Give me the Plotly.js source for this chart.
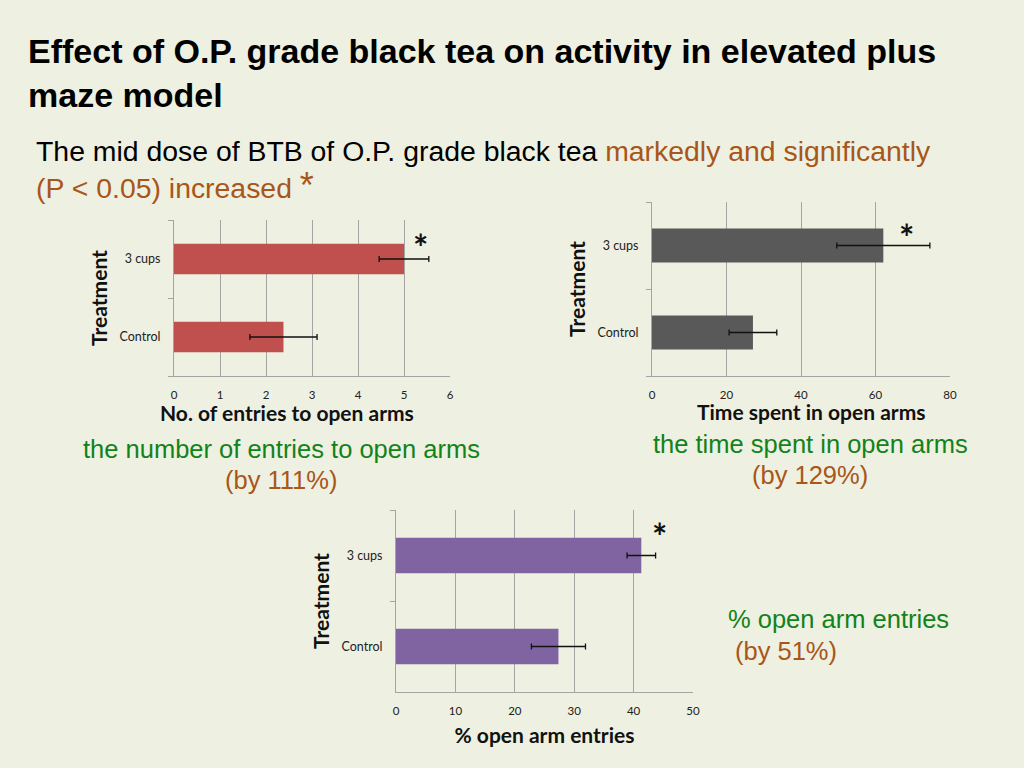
<!DOCTYPE html>
<html>
<head>
<meta charset="utf-8">
<script src="https://cdn.plot.ly/plotly-3.0.1.min.js"></script>
<style>
  html, body { margin: 0; padding: 0; background: #eef0e1; }
  #chart { width: 1024px; height: 768px; }
</style>
</head>
<body>
<div id="chart"></div>
<script>
// ---- data ----
const categories = ['Control', '3 cups'];
const entriesValues = [2.38, 5.0];
const entriesErrors = [0.73, 0.54];
const timeValues = [27.1, 62.1];
const timeErrors = [6.4, 12.5];
const pctValues = [27.35, 41.3];
const pctErrors = [4.55, 2.4];
const xTicks1 = [0, 1, 2, 3, 4, 5, 6];
const xTicks2 = [0, 20, 40, 60, 80];
const xTicks3 = [0, 10, 20, 30, 40, 50];

const BG = '#eef0e1';
const GRID = '#a4a4a4';
const LABEL_FONT = 'Lato, "Open Sans", sans-serif';
const SANS = '"Liberation Sans", Arial, sans-serif';
const GREEN = '#12821a';
const BROWN = '#a8561a';

function barTrace(vals, errs, color, xa, ya) {
  return {
    type: 'bar', orientation: 'h',
    x: vals, y: categories,
    xaxis: xa, yaxis: ya,
    marker: { color: color },
    error_x: { type: 'data', array: errs, visible: true, color: '#111', thickness: 1.3, width: 3 },
    hoverinfo: 'x+y', showlegend: false
  };
}

const data = [
  barTrace(entriesValues, entriesErrors, '#c0504d', 'x', 'y'),
  barTrace(timeValues, timeErrors, '#595959', 'x2', 'y2'),
  barTrace(pctValues, pctErrors, '#8064a2', 'x3', 'y3')
];

const titleFont = { family: LABEL_FONT, size: 21, color: '#111', weight: 'bold' };

function xAxis(domain, anchor, range, ticks, title, standoff) {
  return {
    domain: domain, anchor: anchor, range: range,
    tickmode: 'array', tickvals: ticks, ticktext: ticks.map(String),
    showgrid: true, gridcolor: GRID, gridwidth: 1,
    showline: true, linecolor: GRID, linewidth: 1,
    zeroline: false, ticks: '', ticklabelstandoff: 8,
    tickfont: { family: LABEL_FONT, size: 11.5, color: '#222' },
    title: { text: title, standoff: standoff, font: titleFont },
    fixedrange: true
  };
}
function yAxis(domain, anchor, standoff) {
  return {
    domain: domain, anchor: anchor, range: [-0.5, 1.5],
    type: 'category',
    showgrid: false, showline: true, linecolor: GRID, linewidth: 1,
    zeroline: false, ticks: 'outside', tickson: 'boundaries', ticklen: 5, tickcolor: GRID,
    ticklabelstandoff: 10,
    tickfont: { family: LABEL_FONT, size: 12.5, color: '#222' },
    title: { text: 'Treatment', standoff: standoff, font: titleFont },
    fixedrange: true
  };
}

const W = 1024, H = 768;
const px = v => v / W;
const py = v => 1 - v / H;

const layout = {
  width: W, height: H,
  margin: { l: 0, r: 0, t: 0, b: 0 },
  paper_bgcolor: BG, plot_bgcolor: BG,
  bargap: 0.61,
  xaxis: xAxis([px(174), px(450)], 'y', [0, 6], xTicks1, '', 2),
  yaxis: yAxis([py(376), py(220)], 'x', 6),
  xaxis2: xAxis([px(652), px(950)], 'y2', [0, 80], xTicks2, '', 0),
  yaxis2: yAxis([py(376), py(202)], 'x2', 6),
  xaxis3: xAxis([px(396), px(693)], 'y3', [0, 50], xTicks3, '% open arm entries', 12),
  yaxis3: yAxis([py(692), py(510)], 'x3', 6),
  annotations: [
    { text: '<b>Effect of O.P. grade black tea on activity in elevated plus<br>maze model</b>',
      xref: 'paper', yref: 'paper', x: px(26), y: py(30), xanchor: 'left', yanchor: 'top',
      align: 'left', showarrow: false, font: { family: SANS, size: 34, color: '#000' } },
    { text: 'The mid dose of BTB of O.P. grade black tea <span style="color:' + BROWN + '">markedly and significantly</span><br><span style="color:' + BROWN + '">(P &lt; 0.05) increased <span style="font-size:36px">*</span></span>',
      xref: 'paper', yref: 'paper', x: px(34), y: py(133), xanchor: 'left', yanchor: 'top',
      align: 'left', showarrow: false, font: { family: SANS, size: 28.4, color: '#000' } },
    // x-axis titles of the two upper charts (offset as in the original slide)
    { text: '<b>No. of entries to open arms</b>', xref: 'paper', yref: 'paper', x: px(287), y: py(412),
      xanchor: 'center', yanchor: 'middle', showarrow: false, font: titleFont },
    { text: '<b>Time spent in open arms</b>', xref: 'paper', yref: 'paper', x: px(811), y: py(411),
      xanchor: 'center', yanchor: 'middle', showarrow: false, font: titleFont },
    { text: 'the number of entries to open arms', xref: 'paper', yref: 'paper', x: px(281), y: py(449),
      xanchor: 'center', yanchor: 'middle', showarrow: false, font: { family: SANS, size: 25.5, color: GREEN } },
    { text: '(by 111%)', xref: 'paper', yref: 'paper', x: px(281), y: py(480),
      xanchor: 'center', yanchor: 'middle', showarrow: false, font: { family: SANS, size: 25.5, color: BROWN } },
    { text: 'the time spent in open arms', xref: 'paper', yref: 'paper', x: px(810), y: py(444),
      xanchor: 'center', yanchor: 'middle', showarrow: false, font: { family: SANS, size: 25.5, color: GREEN } },
    { text: '(by 129%)', xref: 'paper', yref: 'paper', x: px(810), y: py(475),
      xanchor: 'center', yanchor: 'middle', showarrow: false, font: { family: SANS, size: 25.5, color: BROWN } },
    { text: '% open arm entries', xref: 'paper', yref: 'paper', x: px(726), y: py(619),
      xanchor: 'left', yanchor: 'middle', showarrow: false, font: { family: SANS, size: 25.5, color: GREEN } },
    { text: '(by 51%)', xref: 'paper', yref: 'paper', x: px(733), y: py(651),
      xanchor: 'left', yanchor: 'middle', showarrow: false, font: { family: SANS, size: 25.5, color: BROWN } },
    { text: '<b>*</b>', xref: 'paper', yref: 'paper', x: px(420), y: py(247),
      xanchor: 'center', yanchor: 'middle', showarrow: false, font: { family: LABEL_FONT, size: 36, color: '#111' } },
    { text: '<b>*</b>', xref: 'paper', yref: 'paper', x: px(906), y: py(237),
      xanchor: 'center', yanchor: 'middle', showarrow: false, font: { family: LABEL_FONT, size: 36, color: '#111' } },
    { text: '<b>*</b>', xref: 'paper', yref: 'paper', x: px(659), y: py(536),
      xanchor: 'center', yanchor: 'middle', showarrow: false, font: { family: LABEL_FONT, size: 36, color: '#111' } }
  ]
};

Plotly.newPlot('chart', data, layout, { displayModeBar: false, staticPlot: true });
</script>
</body>
</html>
